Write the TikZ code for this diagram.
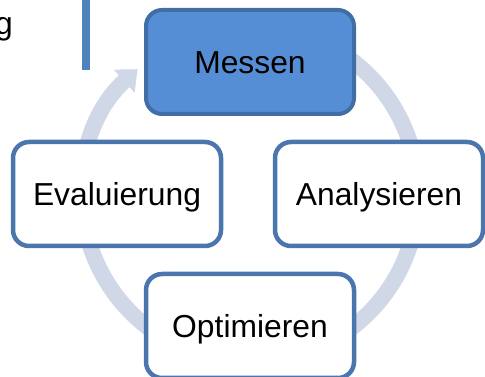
\documentclass[tikz,border=0pt]{standalone}
\usepackage{fontspec}
\setmainfont{Liberation Sans}
\usepackage{xcolor}
\usetikzlibrary{arrows.meta}
\definecolor{stepfill}{HTML}{558ED5}
\definecolor{stepline}{HTML}{416FA5}
\definecolor{boxline}{HTML}{4A76AD}
\definecolor{ringcol}{HTML}{D0D8E8}
\definecolor{barcol}{HTML}{4F81BD}

\begin{document}
\begin{tikzpicture}[x=1pt,y=1pt,
  stepbox/.style={draw=boxline,line width=4.5pt,fill=white,rounded corners=16pt,
    minimum width=208pt,minimum height=104pt,text height=22.6pt,text depth=0pt,
    font=\fontsize{31.8}{38}\selectfont},
  active/.style={stepbox,fill=stepfill,draw=stepline,line width=4pt},
  ring/.style={draw=ringcol,line width=16pt,-{Triangle[width=30pt,length=18pt]}}]
\useasboundingbox (0,0) rectangle (485,377);
\fill[barcol] (82,307) rectangle (90,380);
\node[anchor=base east,inner sep=0pt,font=\fontsize{31.8}{38}\selectfont] (prev) at (13,342.5) {g};
\coordinate (ctr) at (250,183);
\draw[ring] (ctr) ++(120:168) arc[start angle=120,end angle=-228,radius=168];
\node[active] (mess) at (250,315) {Messen};
\node[stepbox] (anal) at (379,183) {Analysieren};
\node[stepbox] (opti) at (250,51) {Optimieren};
\node[stepbox] (eval) at (117,183) {Evaluierung};
\end{tikzpicture}
\end{document}
